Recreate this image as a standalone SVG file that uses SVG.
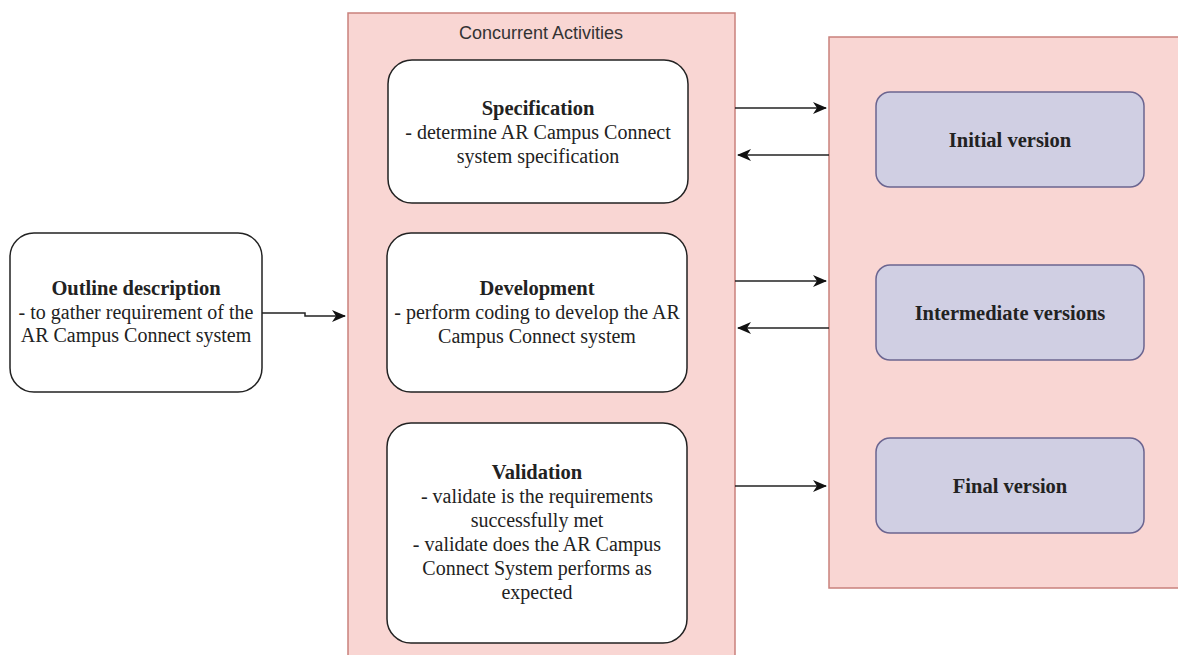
<svg xmlns="http://www.w3.org/2000/svg" width="1178" height="655" viewBox="0 0 1178 655">
<defs>
<style>
.cont{fill:#f9d6d3;stroke:#c9817c;stroke-width:1.5}
.node{fill:#ffffff;stroke:#222;stroke-width:1.5}
.ver{fill:#d0cfe3;stroke:#6b6590;stroke-width:1.5}
.t{font-family:"Liberation Serif",serif;font-size:20px;fill:#222;text-anchor:middle}
.b{font-weight:bold;font-size:20.5px}
.h{font-family:"Liberation Sans",Arial,sans-serif;font-size:18px;fill:#333;text-anchor:middle}
.c{fill:none;stroke:#222;stroke-width:1.5}
</style>
<marker id="ah" viewBox="0 0 14 12" refX="13" refY="6" markerWidth="14" markerHeight="12" markerUnits="userSpaceOnUse" orient="auto">
<path d="M0,0 L14,6 L0,12 L4,6 Z" fill="#111"/>
</marker>
</defs>
<rect width="1178" height="655" fill="#ffffff"/>
<g id="concurrent">
<rect class="cont" x="348" y="13" width="387" height="660"/>
<text class="h" x="541" y="39">Concurrent Activities</text>
</g>
<g id="versions">
<rect class="cont" x="829" y="37" width="360" height="551"/>
</g>
<g id="outline">
<rect class="node" x="10" y="233" width="252" height="159" rx="24"/>
<text class="t b" x="136" y="295">Outline description</text>
<text class="t" x="136" y="319">- to gather requirement of the</text>
<text class="t" x="136" y="342">AR Campus Connect system</text>
</g>
<g id="specification">
<rect class="node" x="388" y="60" width="300" height="143" rx="24"/>
<text class="t b" x="538" y="115">Specification</text>
<text class="t" x="538" y="139">- determine AR Campus Connect</text>
<text class="t" x="538" y="163">system specification</text>
</g>
<g id="development">
<rect class="node" x="387" y="233" width="300" height="159" rx="24"/>
<text class="t b" x="537" y="295">Development</text>
<text class="t" x="537" y="319">- perform coding to develop the AR</text>
<text class="t" x="537" y="343">Campus Connect system</text>
</g>
<g id="validation">
<rect class="node" x="387" y="423" width="300" height="220" rx="24"/>
<text class="t b" x="537" y="479">Validation</text>
<text class="t" x="537" y="503">- validate is the requirements</text>
<text class="t" x="537" y="527">successfully met</text>
<text class="t" x="537" y="551">- validate does the AR Campus</text>
<text class="t" x="537" y="575">Connect System performs as</text>
<text class="t" x="537" y="599">expected</text>
</g>
<g id="initial">
<rect class="ver" x="876" y="92" width="268" height="95" rx="14"/>
<text class="t b" x="1010" y="147">Initial version</text>
</g>
<g id="intermediate">
<rect class="ver" x="876" y="265" width="268" height="95" rx="14"/>
<text class="t b" x="1010" y="320">Intermediate versions</text>
</g>
<g id="final">
<rect class="ver" x="876" y="438" width="268" height="95" rx="14"/>
<text class="t b" x="1010" y="493">Final version</text>
</g>
<g id="connectors">
<path class="c" d="M262,313 L305,313 L305,316 L345,316" marker-end="url(#ah)"/>
<path class="c" d="M735,108 L826,108" marker-end="url(#ah)"/>
<path class="c" d="M829,155 L738,155" marker-end="url(#ah)"/>
<path class="c" d="M735,281 L826,281" marker-end="url(#ah)"/>
<path class="c" d="M829,328 L738,328" marker-end="url(#ah)"/>
<path class="c" d="M735,486 L826,486" marker-end="url(#ah)"/>
</g>
</svg>
